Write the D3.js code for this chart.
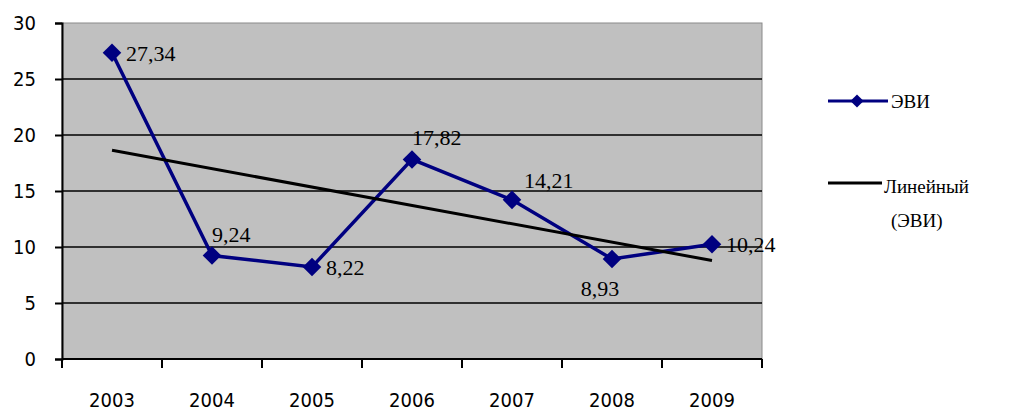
<!DOCTYPE html>
<html lang="ru">
<head>
<meta charset="UTF-8">
<title>ЭВИ</title>
<style>
    body { margin: 0; background: #ffffff; }
    svg { display: block; }
    .tick-y { font-family: "DejaVu Sans Condensed", "DejaVu Sans", sans-serif; font-size: 20px; }
    .tick-x { font-family: "DejaVu Sans Condensed", "DejaVu Sans", sans-serif; font-size: 20px; }
    .val { font-family: "Liberation Serif", serif; font-size: 22px; }
    .legend { font-family: "Liberation Serif", serif; font-size: 19px; }
</style>
</head>
<body>
<svg id="chart" width="1012" height="415"></svg>
<script src="https://d3js.org/d3.v7.min.js"></script>
<script>
// данные
const years = ["2003", "2004", "2005", "2006", "2007", "2008", "2009"];
const evi = [27.34, 9.24, 8.22, 17.82, 14.21, 8.93, 10.24];
const yTicks = [0, 5, 10, 15, 20, 25, 30];
// где стоит подпись относительно точки
const labelPos = ["right", "above", "right", "above", "aboveRight", "belowLeft", "right"];

const svg = d3.select("#chart");
const plot = { left: 62, top: 23, right: 762, bottom: 359 };

const x = d3.scaleBand().domain(years).range([plot.left, plot.right]);
const y = d3.scaleLinear().domain([0, 30]).range([plot.bottom, plot.top]);
const cx = d => x(d) + x.bandwidth() / 2;

// фон области построения
svg.append("rect")
    .attr("x", plot.left).attr("y", plot.top)
    .attr("width", plot.right - plot.left).attr("height", plot.bottom - plot.top)
    .attr("fill", "#c0c0c0")
    .attr("stroke", "#8a8a8a").attr("stroke-width", 1);

// линии сетки
svg.append("g").selectAll("line")
    .data(yTicks.filter(v => v > 0 && v < 30))
    .join("line")
    .attr("x1", plot.left).attr("x2", plot.right)
    .attr("y1", d => y(d)).attr("y2", d => y(d))
    .attr("stroke", "#000").attr("stroke-width", 1.5);

// ось Y
const yAxis = svg.append("g")
    .attr("transform", `translate(${plot.left},0)`)
    .call(d3.axisLeft(y).tickValues(yTicks).tickSize(7).tickPadding(19).tickFormat(d3.format("d")));
yAxis.select(".domain").attr("stroke", "#000").attr("stroke-width", 2);
yAxis.selectAll(".tick line").attr("stroke", "#000").attr("stroke-width", 2);
yAxis.selectAll("text").attr("class", "tick-y").attr("fill", "#000").attr("font-size", null).attr("font-family", null);

// ось X, засечки на границах категорий
const xAxis = svg.append("g").attr("transform", `translate(0,${plot.bottom})`);
xAxis.append("line")
    .attr("x1", plot.left).attr("x2", plot.right)
    .attr("stroke", "#000").attr("stroke-width", 2);
const bounds = years.map(d => x(d)).concat([x(years[years.length - 1]) + x.bandwidth()]);
xAxis.selectAll("line.tk")
    .data(bounds)
    .join("line")
    .attr("class", "tk")
    .attr("x1", d => d).attr("x2", d => d)
    .attr("y1", 0).attr("y2", 9)
    .attr("stroke", "#000").attr("stroke-width", 2);
xAxis.selectAll("text")
    .data(years)
    .join("text")
    .attr("class", "tick-x")
    .attr("x", d => cx(d))
    .attr("y", 48)
    .attr("text-anchor", "middle")
    .text(d => d);

// линейный тренд (метод наименьших квадратов)
const n = evi.length;
const xs = d3.range(1, n + 1);
const mx = d3.mean(xs), my = d3.mean(evi);
const slope = d3.sum(xs, (v, i) => (v - mx) * (evi[i] - my)) / d3.sum(xs, v => (v - mx) * (v - mx));
const icpt = my - slope * mx;
const trend = years.map((d, i) => ({ year: d, v: icpt + slope * (i + 1) }));

const series = years.map((d, i) => ({ year: d, v: evi[i] }));
const line = d3.line().x(d => cx(d.year)).y(d => y(d.v));

svg.append("path")
    .datum(series)
    .attr("d", line)
    .attr("fill", "none")
    .attr("stroke", "#000080")
    .attr("stroke-width", 3.5);

svg.append("path")
    .datum([trend[0], trend[n - 1]])
    .attr("d", line)
    .attr("fill", "none")
    .attr("stroke", "#000")
    .attr("stroke-width", 3);

// маркеры-ромбы
const diamond = d3.symbol().type(d3.symbolDiamond2).size(220);
svg.append("g").selectAll("path")
    .data(series)
    .join("path")
    .attr("transform", d => `translate(${cx(d.year)},${y(d.v)})`)
    .attr("d", diamond)
    .attr("fill", "#000080");

// подписи значений
const fmt = v => v.toFixed(2).replace(".", ",");
const off = {
    right: [14, 8, "start"],
    above: [0, -14, "start"],
    aboveRight: [12, -12, "start"],
    belowLeft: [-12, 37, "middle"]
};
svg.append("g").selectAll("text")
    .data(series)
    .join("text")
    .attr("class", "val")
    .attr("x", (d, i) => cx(d.year) + off[labelPos[i]][0])
    .attr("y", (d, i) => y(d.v) + off[labelPos[i]][1])
    .attr("text-anchor", (d, i) => off[labelPos[i]][2])
    .text(d => fmt(d.v));

// легенда
const lg = svg.append("g");
lg.append("line").attr("x1", 828).attr("x2", 888).attr("y1", 101).attr("y2", 101)
    .attr("stroke", "#000080").attr("stroke-width", 3);
lg.append("path").attr("transform", "translate(857,101)").attr("d", d3.symbol().type(d3.symbolDiamond2).size(110))
    .attr("fill", "#000080");
lg.append("text").attr("class", "legend").attr("x", 891).attr("y", 108).text("ЭВИ");
lg.append("line").attr("x1", 828).attr("x2", 882).attr("y1", 183).attr("y2", 183)
    .attr("stroke", "#000").attr("stroke-width", 3);
lg.append("text").attr("class", "legend").attr("x", 884).attr("y", 193).text("Линейный");
lg.append("text").attr("class", "legend").attr("x", 891).attr("y", 227).text("(ЭВИ)");
</script>
</body>
</html>
